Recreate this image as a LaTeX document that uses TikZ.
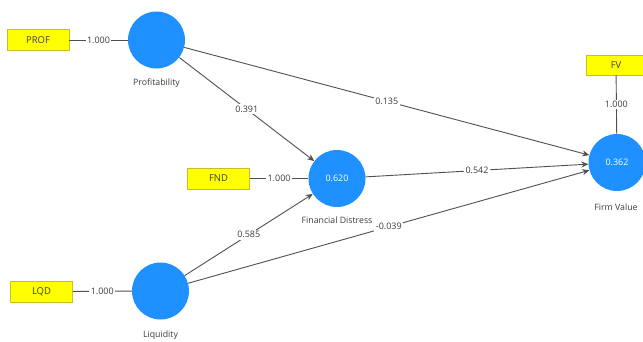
\documentclass[tikz,border=0pt]{standalone}
\usepackage{fontspec}
\setmainfont{Open Sans}
\usetikzlibrary{arrows.meta}
\definecolor{lvblue}{RGB}{30,144,255}
\definecolor{indyellow}{RGB}{255,255,0}
\definecolor{indborder}{RGB}{200,190,40}
\definecolor{edgegrey}{RGB}{80,80,80}
\definecolor{txtgrey}{RGB}{60,60,60}
\tikzset{
  latent/.style={circle, fill=lvblue, draw=none, minimum size=57bp, inner sep=0pt,
    text=white, font=\fontsize{9}{10}\selectfont},
  indicator/.style={rectangle, fill=indyellow, draw=indborder, line width=0.6bp,
    minimum width=62bp, minimum height=21bp, inner sep=0pt, text=txtgrey,
    font=\fontsize{9.5}{10}\selectfont},
  lvname/.style={text=txtgrey, font=\fontsize{8.8}{10}\selectfont, inner sep=0pt},
  path/.style={draw=edgegrey, line width=0.9bp, -{Stealth[length=7bp,width=6bp]}},
  load/.style={draw=edgegrey, line width=0.9bp},
  coef/.style={fill=white, text=txtgrey, font=\fontsize{9}{10}\selectfont, inner sep=1.5bp}
}
\begin{document}
\begin{tikzpicture}[x=1bp, y=-1bp]
\useasboundingbox (0,0) rectangle (643,341);
\fill[white] (0,0) rectangle (643,341);

% latent variables
\node[latent] (prof) at (156.5,40) {};
\node[latent] (fd) at (337,178.5) {0.620};
\node[latent] (liq) at (160.5,291) {};
\node[latent] (fv) at (617,162.5) {0.362};

% names
\node[lvname] (profname) at (156.5,83) {Profitability};
\node[lvname] (fdname) at (337,220.5) {Financial Distress};
\node[lvname] (liqname) at (160.5,335) {Liquidity};
\node[lvname] (fvname) at (616,207) {Firm Value};

% indicators
\node[indicator] (PROF) at (38,40) {PROF};
\node[indicator] (FND) at (218.5,178.5) {FND};
\node[indicator] (LQD) at (41.5,291.5) {LQD};
\node[indicator, minimum width=60bp, minimum height=20bp] (FV) at (616,65) {FV};

% loadings
\draw[load] (PROF) -- node[coef] {1.000} (prof);
\draw[load] (FND) -- node[coef] {1.000} (fd);
\draw[load] (LQD) -- node[coef] {1.000} (liq);
\draw[load] (FV) -- node[coef] {1.000} (fv);

% structural paths
\draw[path] (prof) -- node[coef, pos=0.5] {0.391} (fd);
\draw[path] (prof) -- node[coef, pos=0.5] {0.135} (fv);
\draw[path] (fd) -- node[coef, pos=0.5] {0.542} (fv);
\draw[path] (liq) -- node[coef, pos=0.5] {0.585} (fd);
\draw[path] (liq) -- node[coef, pos=0.5] {-0.039} (fv);
\end{tikzpicture}
\end{document}
